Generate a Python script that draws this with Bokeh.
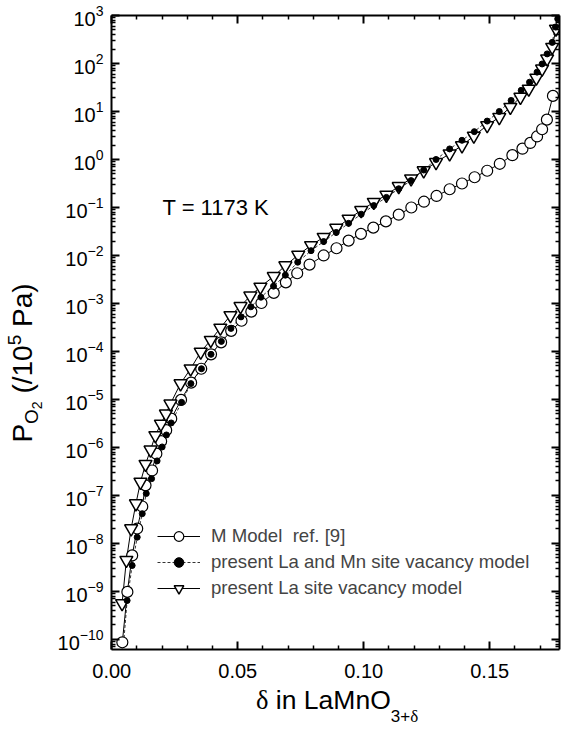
import numpy as np
from bokeh.plotting import figure
from bokeh.layouts import row, column
from bokeh.models import (Range1d, FixedTicker, LinearAxis, LogAxis, Label, Legend,
                          LegendItem, PrintfTickFormatter, CustomJSTickFormatter, Div)
from bokeh.embed import file_html
from bokeh.resources import INLINE

# ---------------- data ----------------
# M Model ref. [9]  (open circles)
circ_x = [0.0042, 0.0062, 0.0081, 0.0101, 0.0121, 0.0134, 0.0160, 0.0177, 0.0196, 0.0216,
          0.0236, 0.0275, 0.0315, 0.0355, 0.0394, 0.0434, 0.0474, 0.0515, 0.0554, 0.0594,
          0.0643, 0.0691, 0.0736, 0.0785, 0.0841, 0.0892, 0.0940, 0.0989, 0.1038, 0.1088,
          0.1139, 0.1189, 0.1239, 0.1289, 0.1341, 0.1390, 0.1440, 0.1490, 0.1540, 0.1590,
          0.1630, 0.1661, 0.1688, 0.1708, 0.1727, 0.1751]
circ_log_p = [-10.06, -9.01, -8.25, -7.69, -7.23, -6.79, -6.48, -6.13, -5.87, -5.64,
              -5.40, -5.01, -4.65, -4.36, -4.06, -3.81, -3.57, -3.36, -3.17, -2.99,
              -2.78, -2.56, -2.37, -2.19, -2.00, -1.85, -1.69, -1.55, -1.42, -1.29,
              -1.15, -1.00, -0.88, -0.76, -0.62, -0.50, -0.37, -0.235, -0.09, 0.09,
              0.225, 0.345, 0.48, 0.63, 0.83, 1.325]

# present La and Mn site vacancy model (filled dots)
dot_x = [0.0044, 0.0061, 0.0081, 0.0101, 0.0121, 0.0137, 0.0158, 0.0180, 0.0200, 0.0217,
         0.0236, 0.0277, 0.0314, 0.0356, 0.0394, 0.0435, 0.0473, 0.0513, 0.0552, 0.0592,
         0.0642, 0.0689, 0.0738, 0.0791, 0.0841, 0.0891, 0.0940, 0.0990, 0.1040, 0.1090,
         0.1139, 0.1188, 0.1238, 0.1287, 0.1341, 0.1390, 0.1439, 0.1490, 0.1538, 0.1585,
         0.1625, 0.1658, 0.1688, 0.1708, 0.1728, 0.1748, 0.1761, 0.1770]
dot_log_p = [-10.28, -9.19, -8.46, -7.87, -7.38, -6.96, -6.65, -6.28, -5.99, -5.74,
             -5.49, -5.06, -4.67, -4.36, -4.06, -3.79, -3.52, -3.28, -3.07, -2.87,
             -2.64, -2.41, -2.14, -1.90, -1.71, -1.52, -1.33, -1.14, -0.96, -0.79,
             -0.61, -0.44, -0.22, 0.0, 0.22, 0.40, 0.58, 0.80, 1.00, 1.23,
             1.44, 1.61, 1.82, 1.99, 2.20, 2.44, 2.76, 2.93]

# present La site vacancy model (open down-triangles)
tri_x = [0.0041, 0.0058, 0.0077, 0.0096, 0.0114, 0.0134, 0.0154, 0.0173, 0.0195, 0.0215,
         0.0233, 0.0273, 0.0313, 0.0353, 0.0393, 0.0431, 0.0471, 0.0511, 0.0550, 0.0590,
         0.0643, 0.0689, 0.0740, 0.0791, 0.0841, 0.0891, 0.0940, 0.0990, 0.1040, 0.1090,
         0.1139, 0.1188, 0.1238, 0.1287, 0.1341, 0.1390, 0.1437, 0.1490, 0.1538, 0.1582,
         0.1622, 0.1655, 0.1685, 0.1708, 0.1728, 0.1748, 0.1763]
tri_log_p = [-9.25, -8.35, -7.69, -7.17, -6.72, -6.35, -6.05, -5.75, -5.51, -5.30,
             -5.09, -4.67, -4.36, -4.01, -3.765, -3.51, -3.25, -3.06, -2.84, -2.655,
             -2.435, -2.21, -1.99, -1.79, -1.62, -1.43, -1.24, -1.06, -0.89, -0.74,
             -0.56, -0.40, -0.23, -0.06, 0.12, 0.29, 0.49, 0.71, 0.88, 1.09,
             1.30, 1.47, 1.70, 1.89, 2.10, 2.34, 2.72]

series_labels = ["M Model  ref. [9]",
                 "present La and Mn site vacancy model",
                 "present La site vacancy model"]

x_major_ticks = [0.00, 0.05, 0.10, 0.15]
x_minor_ticks = [0.01, 0.02, 0.03, 0.04, 0.06, 0.07, 0.08, 0.09,
                 0.11, 0.12, 0.13, 0.14, 0.16, 0.17]
y_major_exponents = list(range(-10, 4))
annotation_text = "T = 1173 K"

# ---------------- layout constants ----------------
YDIV_W = 50                    # width of the y-title strip
FL, FT, FW, FH = 111, 15, 448, 634   # frame position on the page
FB = FT + FH
PLOT_H = 685                   # figure height (frame + tick labels)
XDIV_H = 731 - PLOT_H
SANS = "Liberation Sans"
SERIF = "Liberation Serif"

y_major = [10.0 ** e for e in y_major_exponents]
y_minor = [m * 10.0 ** e for e in range(-11, 3) for m in range(2, 10)]

p = figure(frame_width=FW, frame_height=FH,
           x_axis_type="linear", y_axis_type="log",
           x_range=Range1d(-0.0001, 0.1777), y_range=Range1d(10 ** -10.21, 1000),
           output_backend="svg", toolbar_location=None,
           min_border_left=FL - YDIV_W, min_border_top=FT, min_border_right=4,
           min_border_bottom=PLOT_H - FB, margin=0)
p.outline_line_color = None
p.xgrid.visible = False
p.ygrid.visible = False
p.background_fill_color = "white"
p.border_fill_color = "white"

xt = FixedTicker(ticks=x_major_ticks, minor_ticks=x_minor_ticks)
yt = FixedTicker(ticks=y_major, minor_ticks=y_minor)


def style_axis(ax):
    ax.axis_line_width = 2
    ax.axis_line_color = "black"
    ax.major_tick_in = 8
    ax.major_tick_out = 0
    ax.minor_tick_in = 4
    ax.minor_tick_out = 0
    ax.major_tick_line_width = 2
    ax.minor_tick_line_width = 1.5
    ax.major_label_text_font = SANS
    ax.major_label_text_font_size = "20px"
    ax.major_label_text_color = "black"


xa = p.xaxis[0]
xa.ticker = xt
xa.formatter = PrintfTickFormatter(format="%.2f")
style_axis(xa)
xa.major_label_standoff = 14

ya = p.yaxis[0]
ya.ticker = yt
style_axis(ya)
ya.major_label_standoff = 8

blank = CustomJSTickFormatter(code="return ''")
top = LinearAxis(ticker=xt, formatter=blank)
style_axis(top)
top.major_label_standoff = 0
p.add_layout(top, "above")
right = LogAxis(ticker=yt, formatter=blank)
style_axis(right)
right.major_label_standoff = 0
p.add_layout(right, "right")

# ---------------- series ----------------
circ_y = [10.0 ** v for v in circ_log_p]
dot_y = [10.0 ** v for v in dot_log_p]
tri_y = [10.0 ** v for v in tri_log_p]

l1 = p.line(circ_x, circ_y, line_color="black", line_width=1)
l2 = p.line(dot_x, dot_y, line_color="black", line_width=0.8, line_dash="3 2")
l3 = p.line(tri_x, tri_y, line_color="black", line_width=1)
s1 = p.scatter(circ_x, circ_y, marker="circle", size=11, line_color="black",
               line_width=1.2, fill_color="white")
s3 = p.scatter(tri_x, tri_y, marker="inverted_triangle", size=13, line_color="black",
               line_width=1.5, fill_color="white")
s2 = p.scatter(dot_x, dot_y, marker="circle", size=6, line_color="black",
               fill_color="black")

legend = Legend(items=[LegendItem(label=series_labels[0], renderers=[l1, s1]),
                       LegendItem(label=series_labels[1], renderers=[l2, s2]),
                       LegendItem(label=series_labels[2], renderers=[l3, s3])],
                location=(46, 49), glyph_width=43, glyph_height=24, label_height=24,
                spacing=2, padding=0, margin=0, label_standoff=11,
                label_text_font=SANS, label_text_font_size="18.6px",
                border_line_color=None, background_fill_alpha=0)
p.add_layout(legend)

# in-frame annotation (frame-relative screen units)
p.add_layout(Label(x=162 - FL, y=FB - 207, x_units="screen", y_units="screen",
                   text=annotation_text, text_font=SANS, text_font_size="22px",
                   text_color="black", text_baseline="alphabetic"))

# ---------------- axis titles as HTML (real text with sub/superscripts) ----------------
y_title_html = (
    f'<div style="position:relative;width:{YDIV_W}px;height:{PLOT_H}px;">'
    '<div style="position:absolute;left:25px;top:363px;'
    'transform:translate(-50%,-50%) rotate(-90deg);white-space:nowrap;'
    f"font-family:'{SANS}';font-size:28px;line-height:28px;color:black;\">"
    'P<span style="font-size:19px;position:relative;top:6px;">O'
    '<span style="font-size:14px;position:relative;top:4px;">2</span></span>'
    ' (/10<span style="font-size:19px;position:relative;top:-11px;">5</span> Pa)'
    '</div></div>')

x_title_html = (
    f'<div style="position:relative;width:563px;height:{XDIV_H}px;">'
    '<div style="position:absolute;left:256px;top:2px;white-space:nowrap;'
    f"font-family:'{SANS}';font-size:26.5px;line-height:26px;color:black;\">"
    f"<span style=\"font-family:'{SERIF}';\">&delta;</span> in LaMnO"
    '<span style="font-size:17px;position:relative;top:13px;">3+'
    f"<span style=\"font-family:'{SERIF}';\">&delta;</span></span>"
    '</div></div>')

ydiv = Div(text=y_title_html, width=YDIV_W, height=PLOT_H, margin=0)
xdiv = Div(text=x_title_html, width=563, height=XDIV_H, margin=0)

layout = column(row(ydiv, p, spacing=0, margin=0), xdiv, spacing=0, margin=0)

open("out.html", "w").write(file_html(layout, INLINE))
